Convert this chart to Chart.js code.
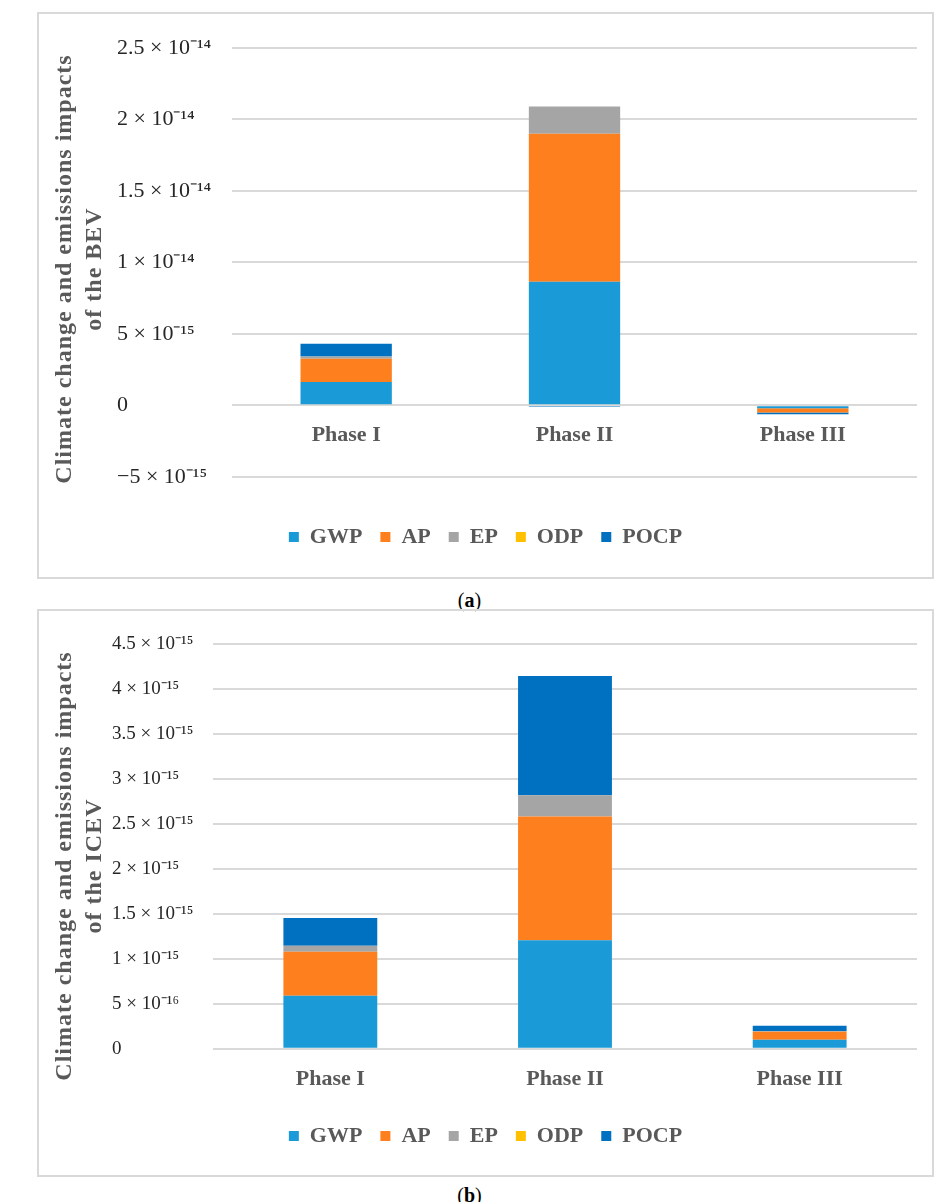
<!DOCTYPE html>
<html>
<head>
<meta charset="utf-8">
<script src="https://cdn.jsdelivr.net/npm/chart.js@4.4.0/dist/chart.umd.min.js"></script>
<style>
body { margin:0; background:#fff; width:939px; height:1202px; position:relative; overflow:hidden; font-family:"Liberation Serif", serif; }
.box { position:absolute; left:37px; width:897px; border:2px solid #d9d9d9; box-sizing:border-box; }
.box canvas { position:absolute; left:0; top:0; }
.ytitle { position:absolute; left:-162px; width:480px; height:60px; line-height:30px; text-align:center; font-weight:bold; font-size:24px; letter-spacing:1px; color:#595959; transform:rotate(-90deg); white-space:nowrap; }
.caption { position:absolute; left:0; width:939px; text-align:center; font-size:20px; line-height:24px; color:#000; }
</style>
</head>
<body>
<div class="box" style="top:12px;height:567px"><canvas id="bevChart" width="893" height="563"></canvas></div>
<div class="ytitle" style="top:239px">Climate change and emissions impacts<br>of the BEV</div>
<div class="caption" style="top:588px">(<b>a</b>)</div>

<div class="box" style="top:609px;height:568px"><canvas id="icevChart" width="893" height="564"></canvas></div>
<div class="ytitle" style="top:836px">Climate change and emissions impacts<br>of the ICEV</div>
<div class="caption" style="top:1183px">(<b>b</b>)</div>

<script>
const phases = ['Phase I', 'Phase II', 'Phase III'];
const seriesNames = ['GWP', 'AP', 'EP', 'ODP', 'POCP'];
const seriesColors = ['#1a9ad6', '#fe7f1e', '#a5a5a5', '#ffc000', '#0070c0'];

// (a) BEV
const bevGWP = [1.63e-15, 8.64e-15, -0.2e-15];
const bevAP = [1.63e-15, 10.36e-15, -0.3e-15];
const bevEP = [0.16e-15, 1.9e-15, 0];
const bevODP = [0, 0, 0];
const bevPOCP = [0.88e-15, -0.1e-15, -0.12e-15];
const bevTicks = ['\u22125 \u00d7 10\u207b\u00b9\u2075', '0', '5 \u00d7 10\u207b\u00b9\u2075', '1 \u00d7 10\u207b\u00b9\u2074',
  '1.5 \u00d7 10\u207b\u00b9\u2074', '2 \u00d7 10\u207b\u00b9\u2074', '2.5 \u00d7 10\u207b\u00b9\u2074'];

// (b) ICEV
const icevGWP = [0.589e-15, 1.208e-15, 0.1e-15];
const icevAP = [0.489e-15, 1.373e-15, 0.089e-15];
const icevEP = [0.067e-15, 0.238e-15, 0.01e-15];
const icevODP = [0, 0, 0];
const icevPOCP = [0.31e-15, 1.326e-15, 0.056e-15];
const icevTicks = ['0', '5 \u00d7 10\u207b\u00b9\u2076', '1 \u00d7 10\u207b\u00b9\u2075', '1.5 \u00d7 10\u207b\u00b9\u2075',
  '2 \u00d7 10\u207b\u00b9\u2075', '2.5 \u00d7 10\u207b\u00b9\u2075', '3 \u00d7 10\u207b\u00b9\u2075',
  '3.5 \u00d7 10\u207b\u00b9\u2075', '4 \u00d7 10\u207b\u00b9\u2075', '4.5 \u00d7 10\u207b\u00b9\u2075'];

// legend is centred on the whole box, not on the padded area
const legendCentre = {
  id: 'legendCentre',
  afterLayout(chart) {
    chart.legend.left = 0;
    chart.legend.right = chart.width;
  }
};

function makeChart(id, series, y) {
  const datasets = series.map((vals, i) => ({
    label: seriesNames[i],
    data: vals,
    backgroundColor: seriesColors[i],
    borderColor: seriesColors[i],
    borderWidth: 0,
    barPercentage: 0.4,
    categoryPercentage: 1
  }));
  return new Chart(document.getElementById(id), {
    type: 'bar',
    data: { labels: phases, datasets: datasets },
    plugins: [legendCentre],
    options: {
      responsive: false,
      animation: false,
      layout: { padding: y.padding },
      scales: {
        x: {
          stacked: true,
          position: { y: 0 },
          grid: { display: false, drawTicks: false },
          border: { display: false },
          ticks: { padding: 17, color: '#595959', font: { family: 'Liberation Serif', size: 22, weight: 'bold' } }
        },
        y: {
          stacked: true,
          min: y.min,
          max: y.max,
          ticks: {
            stepSize: y.step,
            crossAlign: 'far',
            color: '#262626',
            font: { family: 'Liberation Serif', size: y.tickSize },
            callback: (v, i) => y.labels[i]
          },
          grid: { color: '#d9d9d9', lineWidth: 2, drawTicks: false },
          border: { display: false },
          afterFit: s => { s.width = y.width; }
        }
      },
      plugins: {
        tooltip: { enabled: false },
        legend: {
          position: 'bottom',
          title: { display: true, text: '', font: { size: 1 }, padding: { top: y.legendGap, bottom: 0 } },
          labels: {
            boxWidth: 10,
            boxHeight: 10,
            padding: 18,
            color: '#595959',
            font: { family: 'Liberation Serif', size: 22, weight: 'bold' }
          }
        }
      }
    }
  });
}

makeChart('bevChart', [bevGWP, bevAP, bevEP, bevODP, bevPOCP], {
  min: -5e-15, max: 2.5e-14, step: 5e-15, labels: bevTicks, tickSize: 22, width: 115,
  padding: { left: 78, right: 15, top: 34, bottom: 19 }, legendGap: 30
});

makeChart('icevChart', [icevGWP, icevAP, icevEP, icevODP, icevPOCP], {
  min: 0, max: 4.5e-15, step: 0.5e-15, labels: icevTicks, tickSize: 19, width: 101,
  padding: { left: 73, right: 15, top: 33, bottom: 18 }, legendGap: 57
});
</script>
</body>
</html>
